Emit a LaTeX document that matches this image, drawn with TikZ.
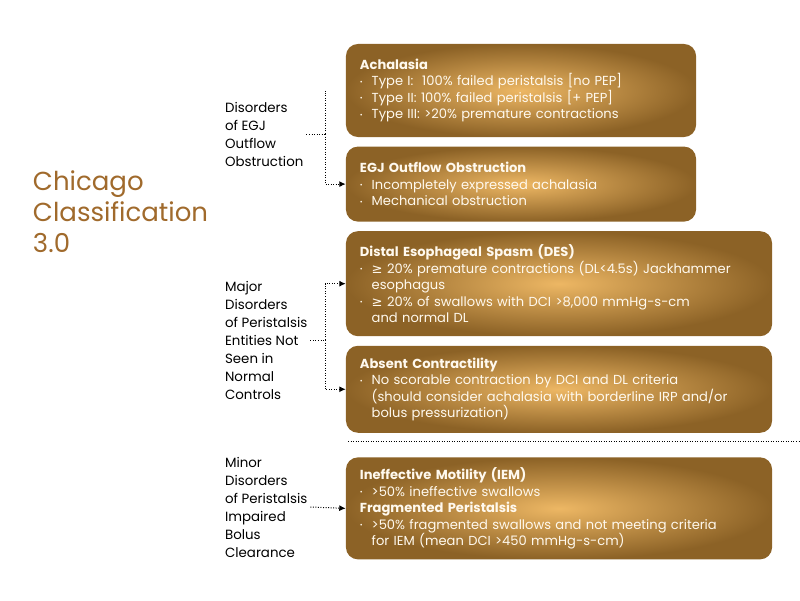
\documentclass[tikz,border=0pt]{standalone}
\usepackage{fontspec}
\setmainfont{Poppins}
\newfontfamily\symfont{DejaVu Sans}
\usepackage{xcolor}
\usetikzlibrary{arrows.meta,positioning}
\definecolor{goldlight}{HTML}{EDB764}
\definecolor{golddark}{HTML}{8C6226}
\definecolor{titlebrown}{HTML}{A06A2C}
\definecolor{boxtext}{HTML}{FFF9EE}
\newcommand{\bul}{\makebox[0.9em][l]{\raisebox{0.12em}{\fontsize{5}{5}\selectfont •}}}
\newcommand{\cont}{\hspace*{0.9em}}
\newcommand{\atleast}{{\symfont ≥}}

\begin{document}
\begin{tikzpicture}[
    x=0.025cm, y=-0.025cm,
    box/.style={rounded corners=0.3cm, inner color=goldlight, outer color=golddark, text=boxtext, align=left, inner xsep=0.35cm, font=\fontsize{9.3}{11.7}\selectfont},
    narrowbox/.style={box, text width=8.05cm},
    widebox/.style={box, text width=9.95cm},
    group/.style={align=left, anchor=west, inner sep=2pt, font=\fontsize{9.5}{12.8}\selectfont},
    dotline/.style={line width=0.7pt, dash pattern=on 0.7pt off 1.1pt},
    arrow/.style={dotline, -{Latex[length=1.6mm, width=1.5mm]}}
]
    \useasboundingbox (0,0) rectangle (800,600);

    \node[anchor=west, align=left, text=titlebrown, font=\fontsize{18.5}{22}\selectfont] (title) at (28,212) {Chicago\\Classification\\3.0};

    % boxes
    \node[narrowbox, minimum height=2.325cm] (ach) at (521,90.5) {{\bfseries Achalasia}\\
        \bul Type I:\ \ 100\% failed peristalsis [no PEP]\\
        \bul Type II: 100\% failed peristalsis [+ PEP]\\
        \bul Type III: >20\% premature contractions};
    \node[narrowbox, minimum height=1.875cm, below=0.225cm of ach.south west, anchor=north west] (egj) {{\bfseries EGJ Outflow Obstruction}\\
        \bul Incompletely expressed achalasia\\
        \bul Mechanical obstruction};
    \node[widebox, minimum height=2.625cm, below=0.225cm of egj.south west, anchor=north west] (des) {{\bfseries Distal Esophageal Spasm (DES)}\\
        \bul \atleast{} 20\% premature contractions (DL<4.5s) Jackhammer\\
        \cont esophagus\\
        \bul \atleast{} 20\% of swallows with DCI >8,000 mmHg-s-cm\\
        \cont and normal DL};
    \node[widebox, minimum height=2.175cm, below=0.225cm of des.south west, anchor=north west] (abs) {{\bfseries Absent Contractility}\\
        \bul No scorable contraction by DCI and DL criteria\\
        \cont (should consider achalasia with borderline IRP and/or\\
        \cont bolus pressurization)};
    \node[widebox, minimum height=2.55cm, below=0.6cm of abs.south west, anchor=north west] (iem) {{\bfseries Ineffective Motility (IEM)}\\
        \bul >50\% ineffective swallows\\
        {\bfseries Fragmented Peristalsis}\\
        \bul >50\% fragmented swallows and not meeting criteria\\
        \cont for IEM (mean DCI >450 mmHg-s-cm)};

    % group labels
    \node[group] (egjlab) at (222,134) {Disorders\\of EGJ\\Outflow\\Obstruction};
    \node[group] (perilab) at (222,340) {Major\\Disorders\\of Peristalsis\\Entities Not\\Seen in\\Normal\\Controls};
    \node[group] (minlab) at (222,507) {Minor\\Disorders\\of Peristalsis\\Impaired\\Bolus\\Clearance};

    % connectors
    \coordinate (egjfork) at (325,134);
    \coordinate (perifork) at (perilab.east -| egjfork);
    \draw[dotline] (egjlab.east) -- (egjfork);
    \draw[dotline] (egjfork) -- (egjfork |- ach.west);
    \draw[arrow] (egjfork) |- (egj.west);
    \draw[dotline] (perilab.east) -- (perifork);
    \draw[arrow] (perifork) |- (des.west);
    \draw[arrow] (perifork) |- (abs.west);
    \draw[arrow] (minlab.east) -- (iem.west);

    \draw[dotline] (348,441) -- (800,441);
\end{tikzpicture}
\end{document}
